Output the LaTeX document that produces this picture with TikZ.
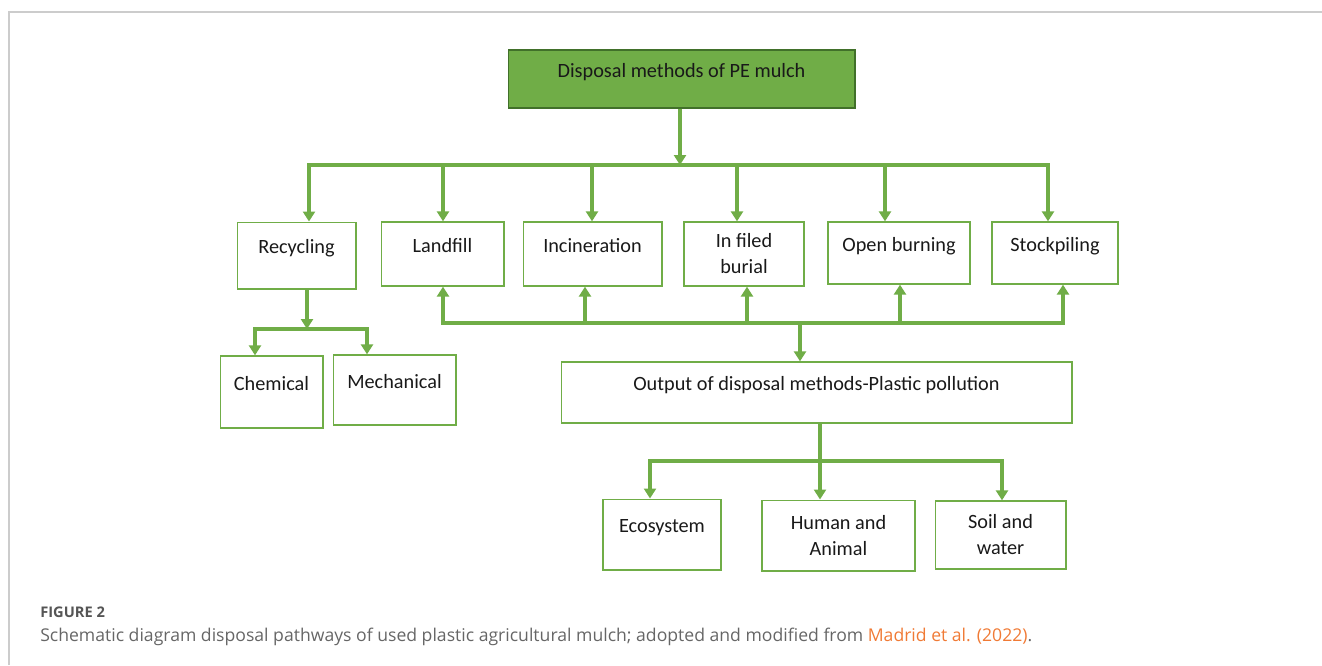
\documentclass[tikz,border=0pt]{standalone}
\usepackage{fontspec}
\setmainfont{Carlito}
\newfontfamily\capfont{Open Sans}
\usepackage{tikz}
\usetikzlibrary{arrows.meta,positioning,calc}
\definecolor{mulchgreen}{HTML}{70AD47}
\definecolor{darkgreen}{HTML}{41702A}
\definecolor{capgray}{HTML}{666666}
\definecolor{figgray}{HTML}{555555}
\definecolor{linkorange}{HTML}{F07A35}
\definecolor{framegray}{HTML}{CCCCCC}

\begin{document}
\begin{tikzpicture}[
  x=0.75pt, y=-0.75pt,
  box/.style 2 args={rectangle, draw=mulchgreen, line width=1pt, minimum width=#1, minimum height=#2, inner sep=0pt, align=center, text=black!90, font=\fontsize{15.2}{19.5}\selectfont},
  oneline/.style={text height=10.5pt, text depth=13.5pt},
  headbox/.style={fill=mulchgreen, draw=darkgreen},
  link/.style={draw=mulchgreen, line width=2.4pt, line cap=rect},
  arrow/.style={-{Triangle[length=7.5pt, width=9pt]}, draw=mulchgreen, line width=2.4pt},
]
  \useasboundingbox (0,0) rectangle (1322,665);
  \draw[framegray, line width=0.9pt] (9,665) -- (9,12) -- (1322,12);

  \node[box={260pt}{43.5pt}, headbox, oneline] (top) at (681.5,79) {Disposal methods of PE mulch};

  \node[box={89pt}{50pt}, oneline] (recyc) at (296.5,255.5) {Recycling};
  \node[box={92pt}{48pt}, oneline] (landfill) at (442.5,254) {Landfill};
  \node[box={104pt}{48pt}, oneline] (incin) at (592.5,254) {Incineration};
  \node[box={90pt}{48pt}] (burial) at (744,254) {In filed\\burial};
  \node[box={106.5pt}{46.5pt}, oneline] (openb) at (899,253) {Open burning};
  \node[box={94.5pt}{46.5pt}, oneline] (stock) at (1055,253) {Stockpiling};

  \node[box={77pt}{54pt}, oneline] (chem) at (271.5,392) {Chemical};
  \node[box={92pt}{52.5pt}, oneline] (mech) at (394.5,390) {Mechanical};

  \node[box={383pt}{45.75pt}, oneline] (output) at (816.5,392.5) {Output of disposal methods-Plastic pollution};

  \node[box={88.5pt}{53pt}, oneline] (eco) at (662,534.5) {Ecosystem};
  \node[box={114.75pt}{53pt}] (human) at (838.5,535.5) {Human and\\Animal};
  \node[box={98pt}{51pt}] (soil) at (1000.5,535) {Soil and\\water};

  \node[anchor=base west, font=\capfont\bfseries\fontsize{11}{13}\selectfont, text=figgray, inner sep=0pt] (fig) at (40,617) {FIGURE 2};
  \node[anchor=base west, font=\capfont\fontsize{13.2}{15}\selectfont, text=capgray, inner sep=0pt] (caption) at (40,641)
    {Schematic diagram disposal pathways of used plastic agricultural mulch; adopted and modified from \textcolor{linkorange}{Madrid et al. (2022)}.};

  \coordinate (jtop) at (680,165);
  \draw[arrow] (jtop |- top.south) -- (jtop);
  \foreach \x/\n in {309/recyc, 443/landfill, 592/incin, 737/burial, 885/openb, 1048/stock} {
    \coordinate (d-\n) at (\x,165);
    \draw[arrow] (d-\n) -- (d-\n |- \n.north);
  }
  \draw[link] (d-recyc) -- (d-stock);

  \foreach \x/\n in {443/landfill, 585/incin, 747/burial, 900/openb, 1063/stock} {
    \coordinate (u-\n) at (\x,323);
    \draw[arrow] (u-\n) -- (u-\n |- \n.south);
  }
  \draw[link] (u-landfill) -- (u-stock);
  \coordinate (jout) at (800,323);
  \draw[arrow] (jout) -- (jout |- output.north);

  \coordinate (jrec) at (307,329);
  \draw[arrow] (jrec |- recyc.south) -- (jrec);
  \coordinate (r-chem) at (255,329);
  \coordinate (r-mech) at (367,329);
  \draw[link] (r-chem) -- (r-mech);
  \draw[arrow] (r-chem) -- (r-chem |- chem.north);
  \draw[arrow] (r-mech) -- (r-mech |- mech.north);

  \coordinate (o-human) at (820,461);
  \coordinate (o-eco) at (650,461);
  \coordinate (o-soil) at (1002,461);
  \draw[arrow] (o-human |- output.south) -- (o-human |- human.north);
  \draw[link] (o-eco) -- (o-soil);
  \draw[arrow] (o-eco) -- (o-eco |- eco.north);
  \draw[arrow] (o-soil) -- (o-soil |- soil.north);
\end{tikzpicture}
\end{document}
